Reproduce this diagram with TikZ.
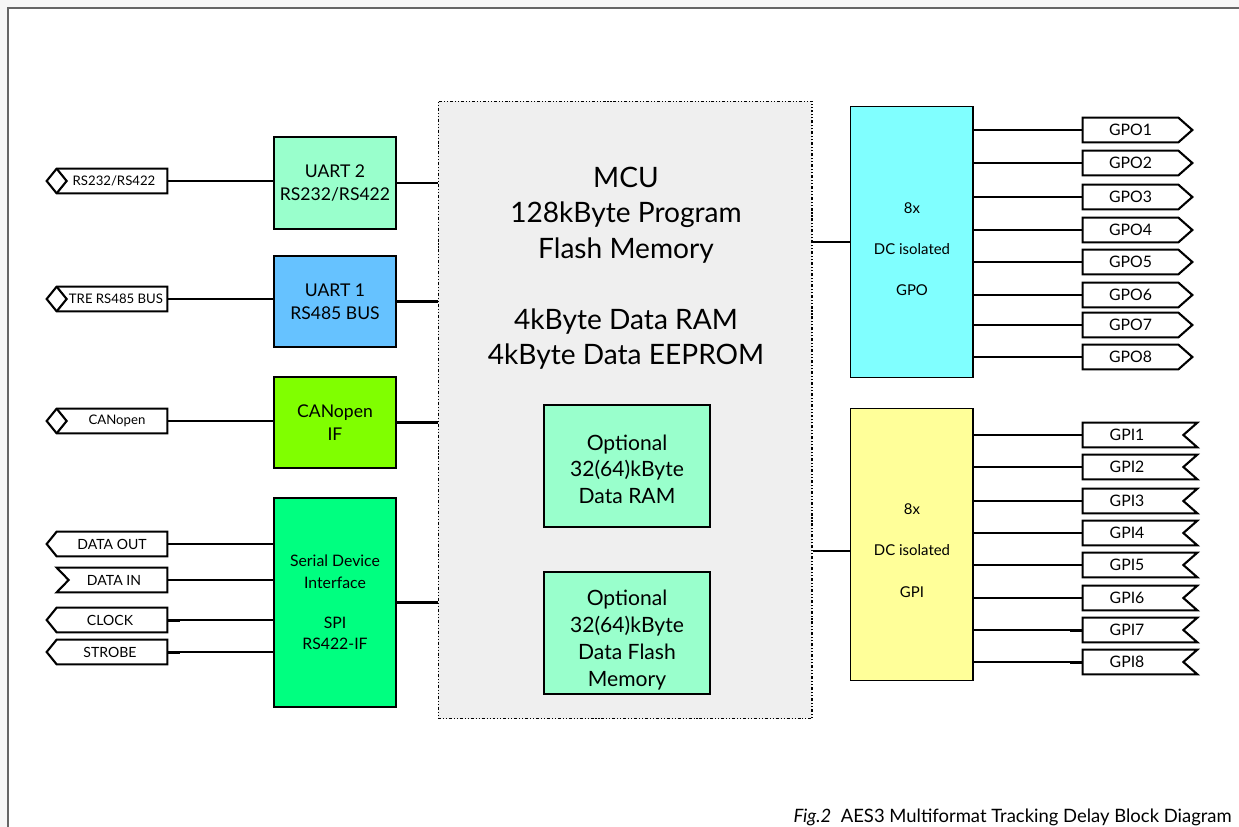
\documentclass[tikz,border=0pt]{standalone}
\usepackage{fontspec}
\setmainfont{Lato}
\usetikzlibrary{positioning}
\definecolor{pagegray}{HTML}{F7F7F7}
\definecolor{framegray}{HTML}{666666}
\definecolor{mcugray}{HTML}{EFEFEF}
\definecolor{mint}{HTML}{99FFCC}
\definecolor{skyblue}{HTML}{66C2FF}
\definecolor{lime}{HTML}{80FF00}
\definecolor{springgreen}{HTML}{00FF80}
\definecolor{gpocyan}{HTML}{80FFFF}
\definecolor{gpiyellow}{HTML}{FFFF99}
\begin{document}
\begin{tikzpicture}[
        x=0.02cm, y=-0.02cm,
        font=\fontsize{10}{13}\selectfont
    ]
    \tikzset{
        block/.style = {rectangle, draw=black, line width=0.6pt, align=center, minimum width=2.44cm, inner sep=0pt},
        optblock/.style = {block, fill=mint, minimum width=3.32cm, minimum height=2.44cm},
        opttext/.style = {align=center, font=\fontsize{12}{15.1}\selectfont},
        ioblock/.style = {block, minimum width=2.46cm, minimum height=5.43cm},
        iotext/.style = {align=center, font=\fontsize{8.5}{23.5}\selectfont},
        port/.style = {rectangle, inner sep=0pt, minimum width=2.2cm, minimum height=0.48cm, font=\fontsize{8}{9}\selectfont},
        busport/.style = {port, font=\fontsize{7.5}{9}\selectfont},
        gport/.style = {port, font=\fontsize{9}{10}\selectfont},
        portline/.style = {draw=black, line width=1.2pt, line join=miter},
        wire/.style = {draw=black, line width=0.7pt},
        stub/.style = {draw=black, line width=1.7pt},
        bus/.style = {draw=black, line width=1.6pt}
    }
    % page and frame
    \useasboundingbox (0,0) rectangle (1239,827);
    \fill[pagegray] (0,0) rectangle (1239,827);
    \fill[white] (8,8) rectangle (1239,827);
    \draw[framegray, line width=0.9pt] (8,827) -- (8,8) -- (1239,8);

    % MCU
    \node[rectangle, fill=mcugray, draw=black, line width=0.6pt,
          dash pattern=on 1.7pt off 1.1pt on 0.6pt off 1.1pt on 0.6pt off 1.1pt,
          minimum width=7.48cm, minimum height=12.36cm] (mcu) at (625,410) {};
    \node[align=center, font=\fontsize{16}{20.2}\selectfont] (mcutext) at (626,268)
        {MCU\\128kByte Program\\Flash Memory\\[20.2pt]4kByte Data RAM\\4kByte Data EEPROM};
    \node[optblock] (optram) at (627,466) {};
    \node[opttext] (optramtext) at (627,469) {Optional\\32(64)kByte\\Data RAM};
    \node[optblock] (optflash) at (627,633) {};
    \node[opttext, font=\fontsize{12}{15.3}\selectfont] (optflashtext) at (627,640) {Optional\\32(64)kByte\\Data Flash\\Memory};

    % left side blocks
    \node[block, fill=mint, minimum height=1.84cm] (uart2) at (335,183) {UART 2\\RS232/RS422};
    \node[block, fill=skyblue, minimum height=1.82cm] (uart1) at (335,301.5) {UART 1\\RS485 BUS};
    \node[block, fill=lime, minimum height=1.82cm] (canif) at (335,422.5) {CANopen\\IF};
    \node[block, fill=springgreen, minimum height=4.18cm, font=\fontsize{9}{12}\selectfont] (sdi) at (335,602.5)
        {Serial Device\\Interface\\[11pt]SPI\\RS422-IF};

    \draw[bus] (uart2.east) -- (uart2.east -| mcu.west);
    \draw[bus] (uart1.east) -- (uart1.east -| mcu.west);
    \draw[bus] (canif.east) -- (canif.east -| mcu.west);
    \draw[bus] (sdi.east) -- (sdi.east -| mcu.west);

    % left ports
    \node[busport] (prs232) at (112,181) {\hspace*{0.08cm}RS232/RS422};
    \node[busport] (prs485) at (112,299) {\hspace*{0.16cm}TRE RS485 BUS};
    \node[busport] (pcan) at (112,421) {\hspace*{0.2cm}CANopen};
    \node[port] (pdout) at (112,544) {DATA OUT};
    \node[port] (pdin) at (112,580) {\hspace*{0.08cm}DATA IN};
    \node[port] (pclock) at (112,620) {\hspace*{-0.08cm}CLOCK};
    \node[port] (pstrobe) at (112,652) {\hspace*{-0.08cm}STROBE};

    % bidirectional: point and notch on the left
    \foreach \p in {prs232,prs485,pcan} {
        \draw[portline] (\p.north east) -- (\p.north west) -- ([xshift=-0.2cm]\p.west) -- (\p.south west) -- (\p.south east) -- cycle;
        \draw[portline] (\p.north west) -- ([xshift=0.2cm]\p.west) -- (\p.south west);
    }
    % outgoing
    \foreach \p in {pdout,pclock,pstrobe}
        \draw[portline] (\p.north east) -- (\p.north west) -- ([xshift=-0.2cm]\p.west) -- (\p.south west) -- (\p.south east) -- cycle;
    % incoming
    \draw[portline] (pdin.north east) -- (pdin.north west) -- ([xshift=0.24cm]pdin.west) -- (pdin.south west) -- (pdin.south east) -- cycle;

    \draw[wire] (prs232.east) -- (prs232.east -| uart2.west);
    \draw[wire] (prs485.east) -- (prs485.east -| uart1.west);
    \draw[wire] (pcan.east) -- (pcan.east -| canif.west);
    \foreach \p in {pdout,pdin,pclock,pstrobe}
        \draw[wire] (\p.east) -- (\p.east -| sdi.west);
    \foreach \p in {prs232,prs485,pcan,pdout,pdin,pclock,pstrobe}
        \draw[stub] (\p.east) -- ++(13,0);

    % right side blocks
    \node[ioblock, fill=gpocyan] (gpo) at (911.5,242) {};
    \node[iotext] (gpotext) at (912,249) {8x\\DC isolated\\GPO};
    \node[ioblock, fill=gpiyellow] (gpi) at (911.5,544.5) {};
    \node[iotext] (gpitext) at (912,550.5) {8x\\DC isolated\\GPI};
    \draw[bus] (mcu.east |- gpo.west) -- (gpo.west);
    \draw[bus] ([yshift=-0.13cm]mcu.east |- gpi.west) -- ([yshift=-0.13cm]gpi.west);

    % outputs
    \foreach \i/\y in {1/130,2/163,3/197,4/230,5/262,6/295,7/325,8/357} {
        \node[gport, minimum width=1.9cm] (gpo\i) at (1130.5,\y) {GPO\i};
        \draw[portline] (gpo\i.north west) -- (gpo\i.north east) -- ([xshift=0.28cm]gpo\i.east) -- (gpo\i.south east) -- (gpo\i.south west) -- cycle;
        \draw[wire] (gpo.east |- gpo\i.west) -- (gpo\i.west);
        \draw[stub] (gpo\i.west) -- ++(-13,0);
    }
    % inputs
    \foreach \i/\y in {1/435,2/467,3/501,4/533,5/565,6/598,7/630,8/662} {
        \node[gport, minimum width=2.0cm] (gpi\i) at (1133,\y) {\hspace*{-0.24cm}GPI\i};
        \draw[portline] (gpi\i.north west) -- ([xshift=0.28cm]gpi\i.north east) -- (gpi\i.east) -- ([xshift=0.28cm]gpi\i.south east) -- (gpi\i.south west) -- cycle;
        \draw[wire] (gpi.east |- gpi\i.west) -- (gpi\i.west);
        \draw[stub] (gpi\i.west) -- ++(-13,0);
    }

    \node[anchor=base east, inner sep=0pt, font=\fontsize{10.5}{12}\selectfont] (caption) at (1232,822)
        {\textit{Fig.2}\ \ AES3 Multiformat Tracking Delay Block Diagram};
\end{tikzpicture}
\end{document}
